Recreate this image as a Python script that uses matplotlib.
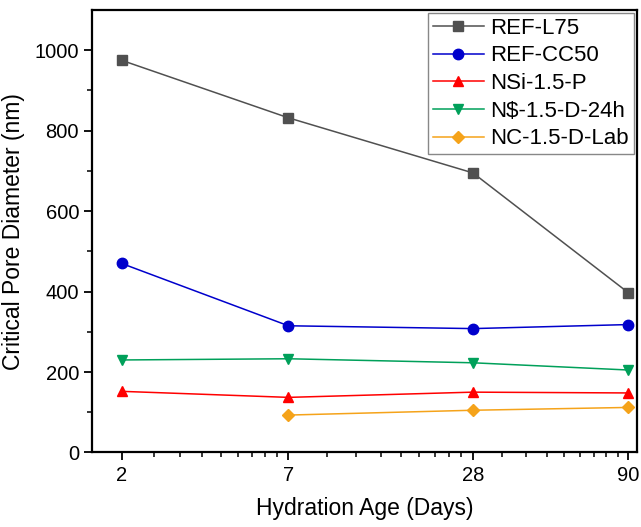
import matplotlib
matplotlib.use("Agg")
import matplotlib.pyplot as plt
from matplotlib.ticker import FixedLocator, NullFormatter
import numpy as np

plt.rcParams['font.family'] = ['Liberation Sans', 'DejaVu Sans']

# data
days = [2, 7, 28, 90]
ref_l75 = [975, 832, 695, 397]
ref_cc50 = [470, 315, 308, 318]
nsi_p = [152, 137, 150, 148]
ns_d24 = [230, 233, 223, 205]
nc_lab = [np.nan, 93, 105, 112]

series = [
    ("REF-L75", ref_l75, '#505050', 's', 7),
    ("REF-CC50", ref_cc50, '#0000cc', 'o', 7.5),
    ("NSi-1.5-P", nsi_p, '#ff0000', '^', 7.5),
    ("N$-1.5-D-24h", ns_d24, '#00a05a', 'v', 7.5),
    ("NC-1.5-D-Lab", nc_lab, '#f5a31a', 'D', 6.5),
]

fig = plt.figure(figsize=(6.41, 5.27), dpi=100)
ax = fig.add_axes([0.144, 0.1414, 0.8498, 0.8396])

for name, vals, col, mk, ms in series:
    ax.plot(days, vals, color=col, marker=mk, markersize=ms, linewidth=1.1,
            label=name.replace('$', r'\$'))

ax.set_xscale('log')
ax.set_xlim(1.605, 96)
ax.set_ylim(0, 1100)

# Origin-style minor ticks: 8 linear steps between the majors
ax.xaxis.set_major_locator(FixedLocator(days))
ax.set_xticklabels([str(d) for d in days])
minors = []
for a, b in zip(days[:-1], days[1:]):
    minors += list(np.linspace(a, b, 10)[1:-1])
ax.xaxis.set_minor_locator(FixedLocator(minors))
ax.xaxis.set_minor_formatter(NullFormatter())

ax.set_yticks([0, 200, 400, 600, 800, 1000])
ax.set_yticks(np.arange(100, 1100, 200), minor=True)

ax.tick_params(which='major', direction='out', length=6, width=1.3, labelsize=14.5)
ax.tick_params(which='minor', direction='out', length=3.5, width=1.1)
for s in ax.spines.values():
    s.set_linewidth(1.6)

ax.set_xlabel("Hydration Age (Days)", fontsize=16.5, labelpad=9)
ax.set_ylabel("Critical Pore Diameter (nm)", fontsize=16.5, labelpad=7)

leg = ax.legend(loc='upper right', fontsize=16, fancybox=False, framealpha=1,
                edgecolor='#888888', borderaxespad=0.15, borderpad=0.2,
                labelspacing=0.3, handlelength=2.3, handletextpad=0.3)
leg.get_frame().set_linewidth(1.0)

fig.savefig("out.png", dpi=100)
